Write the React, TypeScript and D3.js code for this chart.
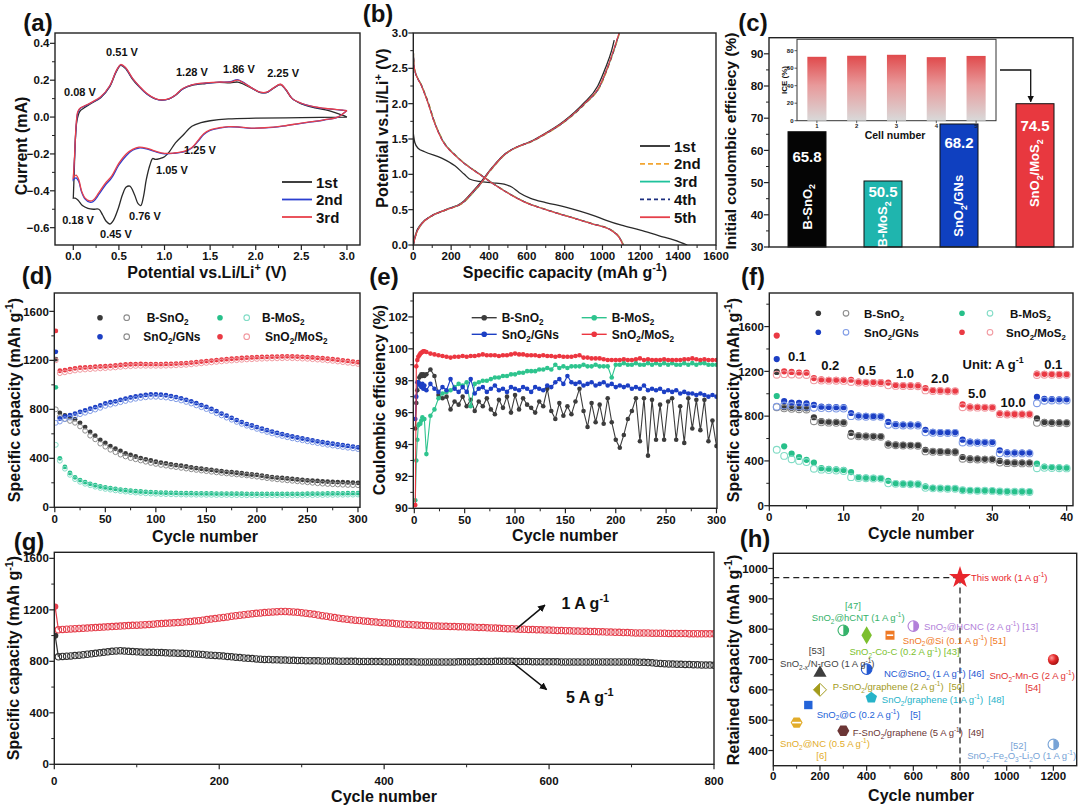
import React from 'react';
import * as d3 from 'd3';

const FONT = "'Liberation Sans', Arial, Helvetica, sans-serif";
type Pt = [number, number];

// ---------------- (a) cyclic voltammetry ----------------
const cv1Cath: Pt[] = [[3.0,0.0],[2.5,-0.003],[2.0,-0.006],[1.7,-0.01],[1.5,-0.02],[1.4,-0.03],[1.3,-0.05],[1.2,-0.1],[1.12,-0.14],[1.05,-0.19],[1.0,-0.215],[0.95,-0.225],[0.9,-0.23],[0.87,-0.225],[0.84,-0.26],[0.8,-0.34],[0.77,-0.43],[0.74,-0.48],[0.71,-0.47],[0.67,-0.42],[0.62,-0.375],[0.58,-0.38],[0.54,-0.42],[0.49,-0.5],[0.44,-0.56],[0.4,-0.58],[0.36,-0.565],[0.32,-0.53],[0.28,-0.5],[0.22,-0.5],[0.16,-0.495],[0.1,-0.48],[0.05,-0.45],[0.02,-0.44],[0.0,-0.44]];
const cv1Anod: Pt[] = [[0.0,-0.44],[0.01,-0.3],[0.02,-0.15],[0.04,-0.02],[0.07,0.03],[0.12,0.05],[0.2,0.075],[0.3,0.105],[0.4,0.165],[0.47,0.245],[0.52,0.28],[0.57,0.265],[0.65,0.205],[0.72,0.165],[0.8,0.128],[0.9,0.098],[0.97,0.092],[1.05,0.098],[1.12,0.118],[1.2,0.152],[1.3,0.172],[1.45,0.182],[1.6,0.188],[1.72,0.185],[1.8,0.19],[1.85,0.182],[1.95,0.158],[2.05,0.133],[2.12,0.133],[2.2,0.158],[2.27,0.176],[2.33,0.148],[2.4,0.1],[2.5,0.072],[2.65,0.05],[2.8,0.035],[2.95,0.01],[3.0,0.0]];
const cv2Cath: Pt[] = [[3.0,0.035],[2.9,0.0],[2.75,-0.016],[2.5,-0.034],[2.3,-0.049],[2.1,-0.059],[1.95,-0.061],[1.8,-0.054],[1.7,-0.053],[1.6,-0.06],[1.5,-0.073],[1.43,-0.095],[1.37,-0.13],[1.3,-0.168],[1.22,-0.188],[1.1,-0.197],[1.0,-0.199],[0.9,-0.188],[0.8,-0.172],[0.72,-0.168],[0.65,-0.18],[0.58,-0.21],[0.5,-0.26],[0.42,-0.33],[0.35,-0.37],[0.28,-0.42],[0.22,-0.458],[0.18,-0.462],[0.13,-0.445],[0.09,-0.405],[0.06,-0.35],[0.03,-0.33],[0.0,-0.34]];
const cv2Anod: Pt[] = [[0.0,-0.34],[0.015,-0.21],[0.03,-0.06],[0.05,0.025],[0.08,0.048],[0.12,0.058],[0.2,0.078],[0.3,0.108],[0.4,0.168],[0.47,0.248],[0.52,0.283],[0.57,0.268],[0.65,0.208],[0.72,0.168],[0.8,0.128],[0.9,0.099],[0.97,0.092],[1.05,0.099],[1.12,0.119],[1.2,0.153],[1.3,0.174],[1.45,0.184],[1.6,0.189],[1.72,0.192],[1.8,0.203],[1.85,0.192],[1.95,0.16],[2.05,0.134],[2.12,0.134],[2.2,0.159],[2.27,0.177],[2.33,0.149],[2.4,0.1],[2.5,0.074],[2.65,0.054],[2.8,0.044],[2.95,0.037],[3.0,0.035]];
const cv3Cath: Pt[] = [[3.0,0.035],[2.9,0.0],[2.75,-0.015],[2.5,-0.033],[2.3,-0.048],[2.1,-0.058],[1.95,-0.06],[1.8,-0.053],[1.7,-0.052],[1.6,-0.058],[1.5,-0.07],[1.43,-0.09],[1.37,-0.125],[1.3,-0.165],[1.22,-0.185],[1.1,-0.195],[1.0,-0.197],[0.9,-0.185],[0.8,-0.168],[0.72,-0.163],[0.65,-0.175],[0.58,-0.2],[0.5,-0.25],[0.42,-0.32],[0.35,-0.36],[0.28,-0.41],[0.22,-0.45],[0.18,-0.455],[0.13,-0.44],[0.09,-0.4],[0.06,-0.34],[0.03,-0.315],[0.0,-0.33]];
const cv3Anod: Pt[] = [[0.0,-0.33],[0.015,-0.2],[0.03,-0.05],[0.05,0.03],[0.08,0.05],[0.12,0.06],[0.2,0.08],[0.3,0.11],[0.4,0.17],[0.47,0.25],[0.52,0.285],[0.57,0.27],[0.65,0.21],[0.72,0.17],[0.8,0.13],[0.9,0.1],[0.97,0.093],[1.05,0.1],[1.12,0.12],[1.2,0.155],[1.3,0.175],[1.45,0.185],[1.6,0.19],[1.72,0.19],[1.8,0.2],[1.85,0.19],[1.95,0.16],[2.05,0.135],[2.12,0.135],[2.2,0.16],[2.27,0.178],[2.33,0.15],[2.4,0.1],[2.5,0.075],[2.65,0.055],[2.8,0.045],[2.95,0.038],[3.0,0.035]];
const cvNames = ['1st', '2nd', '3rd'];
const cvPeakText = ['0.51 V', '1.28 V', '1.86 V', '2.25 V', '0.08 V', '1.25 V', '1.05 V', '0.18 V', '0.76 V', '0.45 V'];
const cvPeakAt: Pt[] = [[0.534,0.353],[1.3,0.244],[1.816,0.26],[2.3,0.239],[0.073,0.136],[1.389,-0.179],[1.082,-0.287],[0.052,-0.558],[0.786,-0.537],[0.468,-0.634]];

// ---------------- (b) charge / discharge ----------------
const gcdDisV = [2.75,2.5,2.25,2.0,1.75,1.5,1.25,1.0,0.75,0.6,0.5,0.4,0.3,0.2,0.1,0.0];
const gcdChV = [0,0.15,0.3,0.4,0.5,0.6,0.75,0.9,1.0,1.1,1.25,1.5,1.75,2.0,2.25,2.5,2.75,3.0];
const gcd2Dis = [0,6,46,82,112,153,232,354,494,600,705,826,950,1055,1093,1112];
const gcd3Dis = [0,5,45,80,110,151,230,352,492,597,702,824,947,1052,1091,1110];
const gcd4Dis = [0,5,44,80,110,150,229,351,491,596,701,823,946,1051,1090,1109];
const gcd5Dis = [0,5,44,79,109,149,228,350,490,595,700,822,945,1050,1090,1108];
const gcd2Ch = [0,15,46,92,178,265,320,367,392,423,473,654,804,909,989,1028,1061,1091];
const gcd3Ch = [0,14,45,91,176,263,318,366,391,421,471,652,802,907,987,1026,1060,1089];
const gcd4Ch = [0,14,44,90,175,262,317,365,390,420,470,651,801,906,986,1025,1059,1088];
const gcd5Ch = [0,14,44,90,175,262,315,365,390,420,470,650,800,905,985,1025,1058,1088];
const gcd1Dis: Pt[] = [[0,1.58],[8,1.45],[25,1.37],[60,1.32],[150,1.23],[220,1.12],[270,1.0],[300,0.93],[350,0.9],[420,0.88],[480,0.86],[520,0.82],[560,0.74],[620,0.66],[700,0.6],[800,0.54],[880,0.48],[950,0.42],[1020,0.35],[1100,0.28],[1200,0.21],[1300,0.13],[1380,0.07],[1448,0.0]];
const gcd1Ch: Pt[] = [[0,0.0],[12,0.15],[42,0.3],[88,0.4],[172,0.5],[258,0.6],[312,0.75],[360,0.9],[388,1.0],[418,1.1],[468,1.25],[645,1.5],[795,1.75],[898,2.0],[975,2.25],[1015,2.5],[1048,2.75],[1062,2.9]];
const gcdNames = ['1st', '2nd', '3rd', '4th', '5th'];

// ---------------- (c) initial coulombic efficiency ----------------
const iceNames = ['B-SnO_{2}', 'B-MoS_{2}', 'SnO_{2}/GNs', 'SnO_{2}/MoS_{2}'];
const iceValues = [65.8, 50.5, 68.2, 74.5];
const iceValueLabelAt = [58, 47.1, 62.3, 67.6];
const iceNameAt = [42.5, 37.0, 42.8, 52.9];
const cellNumbers = ['1', '2', '3', '4', '5'];
const cellIce = [73.0, 74.2, 75.3, 72.6, 74.0];

// ---------------- (d) cycling ----------------
const dCyc = [1, ...d3.range(5, 301, 5)];
const dSnO2Ch = [1210,770,750,738,720,690,655,615,585,550,525,500,478,460,440,428,415,402,392,382,372,365,358,350,345,340,333,326,320,315,310,305,300,295,290,287,282,278,272,268,265,258,252,247,243,240,236,232,228,224,220,218,215,212,210,208,206,205,203,202,200];
const dSnO2Dis = [800,740,720,705,690,660,625,585,555,520,495,470,450,430,415,402,392,382,372,362,354,346,340,333,328,322,316,310,305,300,295,290,285,280,276,272,268,264,260,255,250,244,238,233,228,224,220,216,212,208,204,200,196,193,190,188,186,184,182,181,180];
const dMoS2Ch = [980,400,330,280,245,222,205,192,180,170,162,156,150,145,140,136,132,129,126,124,122,120,119,118,117,116,115,115,114,114,113,113,112,112,112,111,111,111,110,110,110,110,110,110,110,110,110,110,110,110,111,111,112,112,113,113,114,114,115,115,116];
const dMoS2Dis = [510,380,315,265,230,208,192,180,168,158,150,144,138,133,128,124,120,117,114,112,110,108,107,106,105,104,103,103,102,102,101,101,100,100,100,99,99,99,98,98,98,98,98,98,98,98,98,98,98,98,99,99,100,100,101,101,102,102,103,103,104];
const dGNsCh = [1270,725,742,752,765,780,792,805,818,832,848,858,865,878,888,897,905,912,918,922,922,920,915,908,900,890,878,865,850,835,820,803,785,765,748,730,712,696,680,668,655,642,630,618,607,597,588,578,570,562,554,546,539,532,525,519,513,507,501,496,490];
const dGNsDis = [690,700,720,732,745,760,772,785,798,812,828,838,847,858,868,878,886,893,898,902,902,900,896,890,882,872,860,847,832,817,802,786,768,750,732,715,697,681,666,653,640,627,615,603,592,582,572,563,555,547,539,531,524,517,510,504,498,492,486,481,475];
const dMSCh = [1440,1115,1120,1128,1135,1140,1142,1145,1148,1150,1152,1155,1158,1162,1166,1168,1170,1171,1170,1170,1170,1170,1171,1172,1174,1176,1178,1182,1186,1190,1194,1198,1202,1206,1210,1213,1216,1219,1222,1224,1226,1228,1229,1230,1231,1232,1233,1232,1231,1229,1227,1224,1221,1218,1214,1210,1205,1200,1195,1190,1185];
const dMSDis = [1200,1095,1102,1110,1117,1122,1125,1128,1131,1134,1136,1139,1142,1146,1150,1152,1154,1155,1155,1155,1155,1155,1156,1157,1159,1161,1163,1167,1171,1175,1179,1183,1187,1191,1195,1198,1201,1204,1207,1209,1211,1213,1214,1215,1216,1217,1218,1217,1216,1214,1212,1209,1206,1203,1199,1195,1190,1185,1180,1175,1170];
const materials = ['B-SnO_{2}', 'B-MoS_{2}', 'SnO_{2}/GNs', 'SnO_{2}/MoS_{2}'];

// ---------------- (e) coulombic efficiency ----------------
const eCyc = [1, 2, 3, 4, 5, 6, 7, 8, 9, 10, ...d3.range(12, 301, 4)];
const eSnO2 = [95.0,96.6,97.4,97.9,98.2,98.3,98.4,98.3,98.4,98.3,
  98.4,98.7,98.3,97.1,96.9,97.0,96.2,96.7,96.5,97.0,
  96.4,96.8,96.1,96.7,96.4,96.9,96.2,95.9,96.8,96.3,
  97.0,96.0,97.1,96.2,96.9,96.5,96.3,96.0,96.7,96.4,
  97.5,96.1,95.6,96.6,95.8,96.4,95.9,96.7,97.5,96.1,
  95.1,96.6,95.4,96.5,95.3,96.9,95.4,94.3,93.8,94.6,
  95.6,96.1,96.9,94.2,96.9,93.3,96.8,94.3,96.5,94.3,
  96.7,96.9,94.3,96.4,94.1,96.9,95.0,96.8,94.9,96.8,
  94.2,95.5,93.9];
const eMoS2 = [90.5,93.0,94.3,95.2,95.3,95.3,95.5,95.7,95.6,95.6,
  93.4,95.8,96.2,96.9,97.2,97.3,97.4,97.6,97.8,97.7,
  97.9,96.4,97.8,97.9,98.0,98.0,98.1,98.2,98.2,98.3,
  98.3,98.4,98.4,98.5,98.5,98.6,98.6,98.6,98.7,98.7,
  98.8,98.7,99.0,98.8,98.9,98.8,98.9,98.9,98.9,99.0,
  98.9,98.9,99.0,98.9,98.9,98.9,98.2,99.0,99.0,99.1,
  99.0,99.0,99.1,99.0,99.0,99.1,99.0,99.1,99.0,99.1,
  99.0,99.1,99.0,99.0,99.1,99.0,99.1,99.0,99.1,99.1,
  99.0,99.0,99.0];
const eGNs = [95.6,97.0,97.9,97.9,97.8,97.7,97.6,97.8,97.5,97.7,
  97.4,97.8,97.5,97.3,97.6,97.4,98.1,97.5,97.3,97.6,
  97.3,98.1,97.2,97.5,97.6,97.3,97.5,97.7,97.4,97.5,
  97.3,97.6,97.5,97.4,97.6,97.5,97.3,97.6,97.5,97.4,
  97.7,97.6,97.9,98.1,97.8,98.3,97.9,97.8,97.9,97.7,
  97.8,97.9,97.7,97.8,97.9,97.7,97.8,97.6,97.7,97.6,
  97.7,97.5,97.6,97.5,97.7,97.4,97.5,97.4,97.5,97.3,
  97.4,97.3,97.4,97.2,97.3,97.2,97.2,97.1,97.2,97.1,
  97.0,97.1,97.0];
const eMS = [90.2,98.9,99.3,99.5,99.6,99.7,99.75,99.8,99.85,99.85,
  99.8,99.7,99.65,99.6,99.55,99.5,99.45,99.5,99.5,99.55,
  99.5,99.55,99.55,99.6,99.65,99.6,99.6,99.6,99.55,99.6,
  99.6,99.65,99.7,99.65,99.65,99.6,99.6,99.6,99.55,99.6,
  99.55,99.55,99.5,99.55,99.5,99.5,99.5,99.55,99.6,99.45,
  99.45,99.4,99.4,99.4,99.35,99.3,99.3,99.3,99.3,99.35,
  99.3,99.3,99.35,99.4,99.3,99.35,99.3,99.3,99.3,99.35,
  99.3,99.3,99.3,99.3,99.35,99.35,99.4,99.35,99.3,99.35,
  99.3,99.3,99.3];

// ---------------- (f) rate performance ----------------
const fCyc = d3.range(1, 41);
const fSnCh = [1195,880,875,872,870, 790,755,750,748,745, 650,628,625,622,620, 555,545,543,542,540, 500,488,485,484,483, 435,422,420,419,418, 400,388,386,385,385, 780,748,745,744,743];
const fSnDis = [880,870,865,862,860, 755,745,742,740,738, 625,620,618,616,615, 545,540,538,537,536, 485,482,480,479,478, 420,415,413,412,412, 385,380,379,378,378, 740,740,738,738,737];
const fMoCh = [980,530,465,435,410, 385,335,330,325,320, 300,255,250,248,245, 222,200,197,195,194, 172,160,157,155,154, 142,138,136,135,134, 130,128,127,126,126, 375,350,345,343,340];
const fMoDis = [500,445,415,400,390, 330,322,318,314,310, 255,248,245,243,242, 200,195,193,192,191, 160,155,153,152,151, 138,135,134,133,132, 127,125,124,124,123, 335,338,337,335,333];
const fGnCh = [1310,935,922,918,915, 900,885,882,880,880, 828,805,802,800,800, 748,728,725,725,724, 678,660,657,655,655, 590,572,570,568,568, 495,477,475,475,475, 972,955,952,950,950];
const fGnDis = [885,895,890,887,885, 875,872,870,868,868, 800,797,795,795,794, 722,718,717,717,716, 655,652,650,650,650, 565,563,562,562,561, 468,467,467,467,467, 915,938,940,940,940];
const fMsCh = [1520,1200,1195,1190,1188, 1140,1128,1125,1125,1124, 1125,1108,1105,1104,1103, 1100,1078,1076,1075,1074, 1050,1032,1030,1028,1027, 905,885,882,880,880, 825,822,820,820,820, 1180,1178,1176,1175,1175];
const fMsDis = [1170,1175,1172,1170,1168, 1120,1118,1117,1116,1115, 1105,1100,1098,1097,1096, 1075,1070,1069,1068,1067, 1030,1025,1024,1023,1022, 880,877,876,875,875, 818,815,815,815,815, 1168,1170,1170,1170,1170];
const fRateText = ['0.1', '0.2', '0.5', '1.0', '2.0', '5.0', '10.0', '0.1', 'Unit: A g^{-1}'];
const fRateAt: Pt[] = [[3.73,1330],[8.2,1249],[13.15,1213],[18.26,1186],[22.97,1141],[27.95,1007],[32.8,926],[38.2,1266],[30.1,1266]];

// ---------------- (g) long cycling ----------------
const gCyc = [1, ...d3.range(5, 801, 5)];
const g1A = [1225,
  1045,1048,1050,1052,1054,1055,1057,1058,1060,1062,
  1064,1066,1068,1070,1072,1074,1076,1078,1080,1081,
  1083,1085,1087,1089,1091,1093,1095,1097,1099,1101,
  1104,1107,1110,1113,1116,1120,1124,1128,1132,1137,
  1141,1145,1150,1154,1158,1162,1166,1170,1173,1176,
  1179,1182,1184,1186,1187,1187,1186,1184,1181,1178,
  1174,1170,1165,1160,1155,1150,1145,1140,1135,1131,
  1127,1123,1120,1117,1114,1111,1108,1105,1102,1100,
  1097,1095,1092,1090,1088,1086,1084,1082,1080,1078,
  1077,1075,1074,1073,1072,1071,1070,1069,1068,1067,
  1066,1065,1063,1062,1060,1059,1058,1056,1055,1054,
  1053,1052,1050,1049,1048,1047,1046,1045,1044,1043,
  1042,1040,1039,1038,1037,1036,1035,1034,1033,1032,
  1031,1030,1029,1028,1027,1026,1025,1024,1023,1022,
  1021,1021,1020,1020,1019,1019,1018,1018,1017,1017,
  1016,1016,1016,1015,1015,1015,1014,1014,1014,1014];
const g5A = [1000,
  835,838,840,842,845,848,851,855,858,862,
  866,870,874,878,881,882,880,878,876,874,
  872,871,870,870,869,868,866,865,864,863,
  862,861,859,857,855,853,850,848,846,844,
  841,838,835,832,829,826,823,821,819,817,
  815,814,813,812,811,810,809,808,807,806,
  805,805,804,804,803,803,802,802,801,801,
  800,800,800,799,799,799,798,798,798,797,
  797,797,797,796,796,796,796,795,795,795,
  795,795,795,795,795,795,795,796,796,796,
  797,797,798,798,799,799,800,800,800,800,
  800,799,799,798,798,797,797,797,796,796,
  796,796,795,795,795,795,795,795,795,795,
  795,795,795,795,795,795,795,795,795,795,
  794,793,792,790,788,786,784,782,780,779,
  778,777,776,775,774,773,772,771,771,770];
const gRates = ['1 A g^{-1}', '5 A g^{-1}'];

// ---------------- (h) comparison ----------------
const hCycles = [800, 300, 400, 500, 600, 200, 400, 1200, 200, 420, 150, 100, 300, 1200];
const hCapacity = [970, 796, 780, 780, 810, 656, 668, 700, 600, 574, 550, 492, 465, 420];
const hColors = ['#e8262c', '#35b26a', '#7cbf2e', '#ef7a26', '#b27fd9', '#3e3e3e', '#2459d2', '#e23434', '#a39b1c', '#26b3c9', '#2363d8', '#e2ac2a', '#6b3535', '#77a3d6'];
const hShapes = ['star', 'halfcircle', 'diamond', 'halfsquare', 'halfcircle', 'triangle', 'halfcircle', 'sphere', 'halfdiamond', 'pentagon', 'square', 'hexagon', 'hexagon', 'halfcircle'];
const hTexts = ['This work (1 A g^{-1})', '[47]', 'SnO_{2}@hCNT (1 A g^{-1})', 'SnO_{2}-Co-C (0.2 A g^{-1}) [43]', 'SnO_{2}@Si (0.1 A g^{-1}) [51]', 'SnO_{2}@HCNC (2 A g^{-1}) [13]', '[53]', 'SnO_{2-x}/N-rGO (1 A g^{-1})', 'NC@SnO_{2} (1 A g^{-1}) [46]', 'SnO_{2}-Mn-G (2 A g^{-1})', '[54]', 'P-SnO_{2}/graphene (2 A g^{-1})  [50]', 'SnO_{2}/graphene (1 A g^{-1})  [48]', 'SnO_{2}@C (0.2 A g^{-1})    [5]', 'SnO_{2}@NC (0.5 A g^{-1})', '[6]', 'F-SnO_{2}/graphene (5 A g^{-1})  [49]', '[52]', 'SnO_{2}-Fe_{2}O_{3}-Li_{2}O (1 A g^{-1})'];
const hTextAt: Pt[] = [[847,971],[341,879],[165,838],[326,725],[555,763],[646,810],[186,730],[29,687],[474,653],[926,646],[1113,606],[255,610],[465,567],[186,520],[29,423],[207,383],[340,459],[1050,415],[831,383]];
const hTextMid = [false, true, false, false, false, false, true, false, false, false, true, false, false, false, false, true, false, true, false];
const hTextColor = [0, 1, 1, 2, 3, 4, 5, 5, 6, 7, 7, 8, 9, 10, 11, 11, 12, 13, 13];

// ---------------- colours ----------------
const COL = {
  sn: '#3a3a3a', snO: '#8c8c8c',
  mo: '#27c08a', moO: '#82dcc6',
  gn: '#1c3fc4', gnO: '#7f9be6',
  ms: '#ea3a44', msO: '#f29aa1',
};

// ---------------- helpers ----------------
function RT({ t, x, y, fs, anchor = 'start', fill = '#111', bold = true, rot = false }: any) {
  const parts = String(t).split(/(_\{[^}]*\}|\^\{[^}]*\})/).filter((s: string) => s.length > 0);
  let cur = 0;
  const spans = parts.map((p: string, i: number) => {
    let target = 0, size = fs, content = p;
    if (p.startsWith('_{')) { target = fs * 0.28; size = fs * 0.68; content = p.slice(2, -1); }
    else if (p.startsWith('^{')) { target = -fs * 0.4; size = fs * 0.68; content = p.slice(2, -1); }
    const dy = target - cur; cur = target;
    return <tspan key={i} dy={dy} fontSize={size}>{content}</tspan>;
  });
  return (
    <text x={x} y={y} fontSize={fs} fontFamily={FONT} fontWeight={bold ? 'bold' : 'normal'} fill={fill}
      textAnchor={anchor} transform={rot ? `rotate(-90 ${x} ${y})` : undefined} style={{ whiteSpace: 'pre' }}>{spans}</text>
  );
}

function Frame({ x, y, box, xt = [], yt = [], xm = [], ym = [], xf, yf, fs = 11.5, xOff = 15.5 }: any) {
  return (
    <g>
      {xm.map((v: number, i: number) => <line key={'xm' + i} x1={x(v)} x2={x(v)} y1={box.b} y2={box.b + 3} stroke="#222" strokeWidth={1} />)}
      {ym.map((v: number, i: number) => <line key={'ym' + i} x1={box.l - 3} x2={box.l} y1={y(v)} y2={y(v)} stroke="#222" strokeWidth={1} />)}
      {xt.map((v: number, i: number) => (
        <g key={'xt' + i}>
          <line x1={x(v)} x2={x(v)} y1={box.b} y2={box.b + 5} stroke="#222" strokeWidth={1.2} />
          <text x={x(v)} y={box.b + xOff} textAnchor="middle" fontSize={fs} fontWeight="bold" fontFamily={FONT} fill="#111">{xf(v)}</text>
        </g>
      ))}
      {yt.map((v: number, i: number) => (
        <g key={'yt' + i}>
          <line x1={box.l - 5} x2={box.l} y1={y(v)} y2={y(v)} stroke="#222" strokeWidth={1.2} />
          <text x={box.l - 5.5} y={y(v) + fs * 0.36} textAnchor="end" fontSize={fs} fontWeight="bold" fontFamily={FONT} fill="#111">{yf(v)}</text>
        </g>
      ))}
      <rect x={box.l} y={box.t} width={box.r - box.l} height={box.b - box.t} fill="none" stroke="#222" strokeWidth={1.4} />
    </g>
  );
}

function Letter({ t, cx, cy }: any) {
  return <text x={cx} y={cy + 8.5} textAnchor="middle" fontSize={24} fontWeight="bold" fontFamily={FONT} fill="#111">{t}</text>;
}

function YTitle({ t, cx, cy, fs = 16 }: any) {
  return <RT t={t} x={cx + fs * 0.35} y={cy} fs={fs} anchor="middle" rot />;
}
function XTitle({ t, cx, cy, fs = 16 }: any) {
  return <RT t={t} x={cx} y={cy + fs * 0.35} fs={fs} anchor="middle" />;
}

function Clip({ id, box }: any) {
  return <clipPath id={id}><rect x={box.l} y={box.t} width={box.r - box.l} height={box.b - box.t} /></clipPath>;
}

const f1 = d3.format('.1f');
const f0 = d3.format('d');

// ---------------- panels ----------------
function PanelA() {
  const box = { l: 55, r: 360, t: 33, b: 245 };
  const x = d3.scaleLinear().domain([-0.2006, 3.143]).range([box.l, box.r]);
  const y = d3.scaleLinear().domain([-0.694, 0.456]).range([box.b, box.t]);
  const line = d3.line<Pt>().x(d => x(d[0])).y(d => y(d[1])).curve(d3.curveCatmullRom.alpha(0.5));
  const loops = [cv1Cath.concat(cv1Anod), cv2Cath.concat(cv2Anod), cv3Cath.concat(cv3Anod)];
  const cols = ['#2a2a2a', '#2b3fd0', '#e8404a'];
  return (
    <g>
      <Clip id="clipA" box={box} />
      <g clipPath="url(#clipA)">
        {loops.map((d, i) => <path key={i} d={line(d) || ''} fill="none" stroke={cols[i]} strokeWidth={1.3} />)}
      </g>
      {cvPeakText.map((t, i) => <RT key={i} t={t} x={x(cvPeakAt[i][0])} y={y(cvPeakAt[i][1]) + 4} fs={11} anchor="middle" />)}
      {cvNames.map((n, i) => (
        <g key={n}>
          <line x1={282} x2={312} y1={182 + i * 17.5} y2={182 + i * 17.5} stroke={cols[i]} strokeWidth={1.8} />
          <RT t={n} x={316} y={182 + i * 17.5 + 5.5} fs={15} />
        </g>
      ))}
      <Frame x={x} y={y} box={box} xt={d3.range(0, 3.01, 0.5)} xm={d3.range(0.25, 3.01, 0.5)} yt={[-0.6, -0.4, -0.2, 0, 0.2, 0.4]} ym={[-0.5, -0.3, -0.1, 0.1, 0.3]} xf={f1} yf={f1} xOff={15} />
      <YTitle t="Current (mA)" cx={21.7} cy={146} />
      <XTitle t="Potential vs.Li/Li^{+} (V)" cx={207} cy={272} />
      <Letter t="(a)" cx={38} cy={22} />
    </g>
  );
}

function PanelB() {
  const box = { l: 413.3, r: 716, t: 33, b: 245 };
  const x = d3.scaleLinear().domain([0, 1600]).range([box.l, box.r]);
  const y = d3.scaleLinear().domain([0, 3]).range([box.b, box.t]);
  const line = d3.line<Pt>().x(d => x(d[0])).y(d => y(d[1])).curve(d3.curveMonotoneX);
  const mk = (cap: number[], v: number[]): Pt[] => cap.map((c, i) => [c, v[i]] as Pt);
  const cyc = [
    { dis: gcd1Dis, ch: gcd1Ch, c: '#2a2a2a', dash: '' },
    { dis: mk(gcd2Dis, gcdDisV), ch: mk(gcd2Ch, gcdChV), c: '#f2a531', dash: '5,3' },
    { dis: mk(gcd3Dis, gcdDisV), ch: mk(gcd3Ch, gcdChV), c: '#1fc29c', dash: '' },
    { dis: mk(gcd4Dis, gcdDisV), ch: mk(gcd4Ch, gcdChV), c: '#1c2f80', dash: '4,3' },
    { dis: mk(gcd5Dis, gcdDisV), ch: mk(gcd5Ch, gcdChV), c: '#e5404a', dash: '' },
  ];
  return (
    <g>
      <Clip id="clipB" box={box} />
      <g clipPath="url(#clipB)">
        {cyc.map((s, i) => (
          <g key={i}>
            <path d={line(s.dis) || ''} fill="none" stroke={s.c} strokeWidth={1.3} strokeDasharray={s.dash} />
            <path d={line(s.ch) || ''} fill="none" stroke={s.c} strokeWidth={1.3} strokeDasharray={s.dash} />
          </g>
        ))}
      </g>
      {gcdNames.map((n, i) => (
        <g key={n}>
          <line x1={640} x2={670} y1={146 + i * 17.8} y2={146 + i * 17.8} stroke={cyc[i].c} strokeWidth={1.8} strokeDasharray={cyc[i].dash} />
          <RT t={n} x={674} y={146 + i * 17.8 + 5.5} fs={15} />
        </g>
      ))}
      <Frame x={x} y={y} box={box} xt={d3.range(0, 1601, 200)} xm={d3.range(100, 1600, 200)} yt={d3.range(0, 3.01, 0.5)} ym={d3.range(0.25, 3, 0.5)} xf={f0} yf={f1} xOff={15} />
      <YTitle t="Potential vs.Li/Li^{+} (V)" cx={382.5} cy={128} fs={16} />
      <XTitle t="Specific capacity (mAh g^{-1})" cx={565} cy={272} />
      <Letter t="(b)" cx={378} cy={13.5} />
    </g>
  );
}

function PanelC() {
  const box = { l: 769, r: 1073, t: 37.7, b: 247 };
  const y = d3.scaleLinear().domain([30, 95]).range([box.b, box.t]);
  const x = d3.scaleBand<number>().domain([0, 1, 2, 3]).range([box.l, box.r]).paddingInner(0.5).paddingOuter(0.25);
  const cols = ['#050505', '#1fb5ae', '#0f40c0', '#e8383f'];
  const ib = { l: 797, r: 996, t: 39.3, b: 120.7 };
  const iy = d3.scaleLinear().domain([0, 93]).range([ib.b, ib.t]);
  const ix = d3.scaleBand<string>().domain(cellNumbers).range([ib.l, ib.r]).paddingInner(0.52).paddingOuter(0.26);
  return (
    <g>
      {iceValues.map((v, i) => (
        <g key={i}>
          <rect x={x(i)} y={y(v)} width={x.bandwidth()} height={y(30) - y(v)} fill={cols[i]} stroke="#111" strokeWidth={1} />
          <RT t={f1(v)} x={(x(i) || 0) + x.bandwidth() / 2} y={y(iceValueLabelAt[i]) + 5.5} fs={15} anchor="middle" fill="#fff" />
          <RT t={iceNames[i]} x={(x(i) || 0) + x.bandwidth() / 2 + 4.5} y={y(iceNameAt[i])} fs={13} anchor="middle" fill="#fff" rot />
        </g>
      ))}
      <Frame x={(v: number) => v} y={y} box={box} yt={d3.range(30, 91, 10)} ym={d3.range(35, 95, 10)} xf={f0} yf={f0} />
      <rect x={ib.l} y={ib.t} width={ib.r - ib.l} height={ib.b - ib.t} fill="#fff" stroke="#333" strokeWidth={1} />
      {cellIce.map((v, i) => (
        <rect key={i} x={ix(cellNumbers[i])} y={iy(v)} width={ix.bandwidth()} height={iy(0) - iy(v)} fill="url(#iceGrad)" />
      ))}
      {[0, 20, 40, 60, 80].map(v => (
        <g key={v}>
          <line x1={ib.l - 2.5} x2={ib.l} y1={iy(v)} y2={iy(v)} stroke="#333" strokeWidth={0.8} />
          <text x={ib.l - 3.5} y={iy(v) + 2.2} fontSize={6} fontWeight="bold" fontFamily={FONT} textAnchor="end" fill="#222">{v}</text>
        </g>
      ))}
      {cellNumbers.map(c => (
        <g key={c}>
          <line x1={(ix(c) || 0) + ix.bandwidth() / 2} x2={(ix(c) || 0) + ix.bandwidth() / 2} y1={ib.b} y2={ib.b + 2.5} stroke="#333" strokeWidth={0.8} />
          <text x={(ix(c) || 0) + ix.bandwidth() / 2} y={ib.b + 7} fontSize={6} fontWeight="bold" fontFamily={FONT} textAnchor="middle" fill="#222">{c}</text>
        </g>
      ))}
      <RT t="Cell number" x={895} y={138.5} fs={10.5} anchor="middle" />
      <RT t="ICE (%)" x={787} y={80} fs={8} anchor="middle" rot />
      <path d={`M1000,70 H1030.7 V${y(iceValues[3]) - 2}`} fill="none" stroke="#111" strokeWidth={1.3} markerEnd="url(#arrowC)" />
      <YTitle t="Initial coulombic efficiecy (%)" cx={731} cy={141} fs={15.5} />
      <Letter t="(c)" cx={753} cy={22} />
    </g>
  );
}

function LegendPair({ x1, x2, tx, yy, c, co, t, fs = 12 }: any) {
  return (
    <g>
      <circle cx={x1} cy={yy} r={2.8} fill={c} />
      <circle cx={x2} cy={yy} r={2.8} fill="none" stroke={co} strokeWidth={1.1} />
      <RT t={t} x={tx} y={yy + 4.3} fs={fs} />
    </g>
  );
}

function PanelD() {
  const box = { l: 54.3, r: 360, t: 293, b: 507.3 };
  const x = d3.scaleLinear().domain([0, 302]).range([54.8, 360]);
  const y = d3.scaleLinear().domain([0, 1750]).range([box.b, box.t]);
  const series = [
    { ch: dSnO2Ch, dis: dSnO2Dis, c: COL.sn, o: COL.snO },
    { ch: dMoS2Ch, dis: dMoS2Dis, c: COL.mo, o: COL.moO },
    { ch: dGNsCh, dis: dGNsDis, c: COL.gn, o: COL.gnO },
    { ch: dMSCh, dis: dMSDis, c: COL.ms, o: COL.msO },
  ];
  return (
    <g>
      <Clip id="clipD" box={box} />
      <g clipPath="url(#clipD)">
        {series.map((s, si) => (
          <g key={si}>
            {s.ch.map((v, i) => <circle key={'f' + i} cx={x(dCyc[i])} cy={y(v)} r={2.4} fill={s.c} />)}
            {s.dis.map((v, i) => <circle key={'o' + i} cx={x(dCyc[i])} cy={y(v)} r={2.4} fill="none" stroke={s.o} strokeWidth={1} />)}
          </g>
        ))}
      </g>
      <LegendPair x1={100} x2={126.7} tx={146.7} yy={317.7} c={COL.sn} co={COL.snO} t={materials[0]} />
      <LegendPair x1={220} x2={246.7} tx={262} yy={317.7} c={COL.mo} co={COL.moO} t={materials[1]} />
      <LegendPair x1={100} x2={126.7} tx={143.3} yy={336.7} c={COL.gn} co={COL.snO} t={materials[2]} />
      <LegendPair x1={220} x2={246.7} tx={265} yy={336.7} c={COL.ms} co={COL.msO} t={materials[3]} />
      <Frame x={x} y={y} box={box} xt={d3.range(0, 301, 50)} xm={d3.range(25, 300, 50)} yt={d3.range(0, 1601, 400)} ym={d3.range(200, 1750, 400)} xf={f0} yf={f0} />
      <YTitle t="Specific capacity (mAh g^{-1})" cx={14} cy={400} />
      <XTitle t="Cycle number" cx={205} cy={536} />
      <Letter t="(d)" cx={37} cy={275} />
    </g>
  );
}

function PanelE() {
  const box = { l: 413.3, r: 717, t: 293, b: 508.3 };
  const x = d3.scaleLinear().domain([0, 301]).range([414.3, 717.5]);
  const y = d3.scaleLinear().domain([90, 103.5]).range([box.b, box.t]);
  const series = [
    { v: eSnO2, c: '#3c3c3c' },
    { v: eMoS2, c: '#2ec48e' },
    { v: eGNs, c: '#1c3fc4' },
    { v: eMS, c: '#ec3640' },
  ];
  const line = d3.line<number>().x((d, i) => x(eCyc[i])).y(d => y(d));
  return (
    <g>
      <Clip id="clipE" box={box} />
      <g clipPath="url(#clipE)">
        {series.map((s, si) => (
          <g key={si}>
            <path d={line(s.v) || ''} fill="none" stroke={s.c} strokeWidth={1.1} />
            {s.v.map((v, i) => <circle key={i} cx={x(eCyc[i])} cy={y(v)} r={2.3} fill={s.c} />)}
          </g>
        ))}
      </g>
      {series.map((s, i) => {
        const lx = i % 2 === 0 ? 471.7 : 581.7;
        const yy = i < 2 ? 317.7 : 334.3;
        return (
          <g key={i}>
            <line x1={lx} x2={lx + 25} y1={yy} y2={yy} stroke={s.c} strokeWidth={1.4} />
            <circle cx={lx + 12.5} cy={yy} r={2.8} fill={s.c} />
            <RT t={materials[i]} x={lx + 30} y={yy + 4.3} fs={12} />
          </g>
        );
      })}
      <Frame x={x} y={y} box={box} xt={d3.range(0, 301, 50)} xm={d3.range(25, 300, 50)} yt={d3.range(90, 102.1, 2)} ym={d3.range(91, 104, 2)} xf={f0} yf={f0} />
      <YTitle t="Coulombic efficiency (%)" cx={379} cy={400} />
      <XTitle t="Cycle number" cx={565} cy={535} />
      <Letter t="(e)" cx={384} cy={276} />
    </g>
  );
}

function PanelF() {
  const box = { l: 769.3, r: 1073, t: 293, b: 505.7 };
  const x = d3.scaleLinear().domain([0, 40.85]).range([box.l, box.r]);
  const y = d3.scaleLinear().domain([0, 1900]).range([box.b, box.t]);
  const series = [
    { ch: fSnCh, dis: fSnDis, c: COL.sn, o: COL.snO },
    { ch: fMoCh, dis: fMoDis, c: COL.mo, o: COL.moO },
    { ch: fGnCh, dis: fGnDis, c: COL.gn, o: COL.gnO },
    { ch: fMsCh, dis: fMsDis, c: COL.ms, o: COL.msO },
  ];
  return (
    <g>
      <Clip id="clipF" box={box} />
      <g clipPath="url(#clipF)">
        {series.map((s, si) => (
          <g key={si}>
            {s.ch.map((v, i) => <circle key={'f' + i} cx={x(fCyc[i])} cy={y(v)} r={3.1} fill={s.c} />)}
            {s.dis.map((v, i) => <circle key={'o' + i} cx={x(fCyc[i])} cy={y(v)} r={3.4} fill="none" stroke={s.o} strokeWidth={1.1} />)}
          </g>
        ))}
      </g>
      {fRateText.map((t, i) => <RT key={i} t={t} x={x(fRateAt[i][0])} y={y(fRateAt[i][1]) + 4.6} fs={13} anchor="middle" />)}
      <LegendPair x1={818.3} x2={846} tx={864} yy={313.3} c={COL.sn} co={COL.snO} t={materials[0]} fs={11.5} />
      <LegendPair x1={962} x2={990} tx={1010} yy={313.3} c={COL.mo} co={COL.moO} t={materials[1]} fs={11.5} />
      <LegendPair x1={818.3} x2={846} tx={864} yy={332.3} c={COL.gn} co={COL.gnO} t={materials[2]} fs={11.5} />
      <LegendPair x1={962} x2={990} tx={1006} yy={332.3} c={COL.ms} co={COL.msO} t={materials[3]} fs={11.5} />
      <Frame x={x} y={y} box={box} xt={[0, 10, 20, 30, 40]} xm={[5, 15, 25, 35]} yt={d3.range(0, 1601, 400)} ym={d3.range(200, 1900, 400)} xf={f0} yf={f0} />
      <YTitle t="Specific capacity (mAh g^{-1})" cx={733} cy={400} />
      <XTitle t="Cycle number" cx={921} cy={533} />
      <Letter t="(f)" cx={753} cy={276} />
    </g>
  );
}

function PanelG() {
  const box = { l: 54.3, r: 714, t: 552.3, b: 764.3 };
  const x = d3.scaleLinear().domain([0, 800]).range([box.l, box.r]);
  const y = d3.scaleLinear().domain([0, 1647]).range([box.b, box.t]);
  const series = [
    { v: g5A, c: '#333333' },
    { v: g1A, c: '#e5404d' },
  ];
  const line = d3.line<number>().x((d, i) => x(gCyc[i])).y(d => y(d));
  return (
    <g>
      <Clip id="clipG" box={box} />
      <g clipPath="url(#clipG)">
        {series.map((s, si) => (
          <g key={si}>
            <path d={line(s.v.slice(0, 2)) || ''} fill="none" stroke={s.c} strokeWidth={1.2} />
            <circle cx={x(gCyc[0])} cy={y(s.v[0])} r={3.2} fill={s.c} />
            {s.v.slice(1).map((v, i) => <circle key={i} cx={x(gCyc[i + 1])} cy={y(v)} r={3.2} fill="none" stroke={s.c} strokeWidth={1.1} />)}
          </g>
        ))}
      </g>
      <line x1={x(560)} y1={y(1050)} x2={x(595)} y2={y(1237)} stroke="#111" strokeWidth={1.5} markerEnd="url(#arrowG)" />
      <line x1={x(555)} y1={y(795)} x2={x(597)} y2={y(580)} stroke="#111" strokeWidth={1.5} markerEnd="url(#arrowG)" />
      <RT t={gRates[0]} x={x(615)} y={y(1252) + 5.6} fs={16} />
      <RT t={gRates[1]} x={x(620.5)} y={y(522) + 5.6} fs={16} />
      <Frame x={x} y={y} box={box} xt={[0, 200, 400, 600, 800]} xm={[100, 300, 500, 700]} yt={[0, 400, 800, 1200, 1600]} ym={[200, 600, 1000, 1400]} xf={f0} yf={f0} xOff={20.5} />
      <YTitle t="Specific capacity (mAh g^{-1})" cx={13.5} cy={658} />
      <XTitle t="Cycle number" cx={384} cy={796.5} />
      <Letter t="(g)" cx={29} cy={541} />
    </g>
  );
}

function poly(n: number, r: number, rot: number) {
  const pts = d3.range(n).map(k => {
    const a = rot + (k * 2 * Math.PI) / n;
    return [r * Math.sin(a), -r * Math.cos(a)] as Pt;
  });
  return 'M' + pts.map(p => p.join(',')).join('L') + 'Z';
}

function HMarker({ shape, cx, cy, c }: any) {
  const t = `translate(${cx},${cy})`;
  if (shape === 'star') return <path transform={t} d={d3.symbol(d3.symbolStar, 150)() || ''} fill={c} />;
  if (shape === 'diamond') return <path transform={t} d={d3.symbol(d3.symbolDiamond, 95)() || ''} fill={c} />;
  if (shape === 'triangle') return <path transform={t} d={d3.symbol(d3.symbolTriangle, 75)() || ''} fill={c} />;
  if (shape === 'square') return <path transform={t} d={d3.symbol(d3.symbolSquare, 70)() || ''} fill={c} />;
  if (shape === 'pentagon') return <path transform={t} d={poly(5, 6, 0)} fill={c} />;
  if (shape === 'hexagon') return (
    <g transform={t}>
      <path d={poly(6, 6, Math.PI / 6)} fill={c} />
      {c === '#e2ac2a' ? <rect x={-4.5} y={-0.8} width={9} height={1.6} fill="#fff" /> : null}
    </g>
  );
  if (shape === 'sphere') return <circle cx={cx} cy={cy} r={5.5} fill="url(#sphereGrad)" />;
  if (shape === 'halfsquare') return (
    <g transform={t}>
      <rect x={-4.5} y={-4.5} width={9} height={9} fill={c} />
      <rect x={-3.2} y={-0.8} width={6.4} height={1.6} fill="#fff" />
    </g>
  );
  if (shape === 'halfdiamond') return (
    <g transform={t}>
      <path d="M0,-6.5L6.5,0L0,6.5L-6.5,0Z" fill="#fff" stroke={c} strokeWidth={1} />
      <path d="M0,-6.5L0,6.5L-6.5,0Z" fill={c} />
    </g>
  );
  return (
    <g transform={t}>
      <circle r={5.3} fill="#fff" stroke={c} strokeWidth={1.1} />
      <path d="M0,-5.3A5.3,5.3 0 0 1 0,5.3Z" fill={c} />
    </g>
  );
}

function PanelH() {
  const box = { l: 773.3, r: 1076.7, t: 553.3, b: 765.7 };
  const x = d3.scaleLinear().domain([0, 1300]).range([box.l, box.r]);
  const y = d3.scaleLinear().domain([350, 1050]).range([box.b, box.t]);
  return (
    <g>
      <line x1={x(0)} x2={x(hCycles[0])} y1={y(hCapacity[0])} y2={y(hCapacity[0])} stroke="#222" strokeWidth={1.3} strokeDasharray="6,4" />
      <line x1={x(hCycles[0])} x2={x(hCycles[0])} y1={y(hCapacity[0])} y2={box.b} stroke="#222" strokeWidth={1.3} strokeDasharray="6,4" />
      {hCycles.map((c, i) => <HMarker key={i} shape={hShapes[i]} cx={x(c)} cy={y(hCapacity[i])} c={hColors[i]} />)}
      {hTexts.map((t, i) => (
        <RT key={i} t={t} x={x(hTextAt[i][0])} y={y(hTextAt[i][1]) + 3.4} fs={9.5} bold={false} anchor={hTextMid[i] ? 'middle' : 'start'} fill={hColors[hTextColor[i]]} />
      ))}
      <Frame x={x} y={y} box={box} xt={d3.range(0, 1201, 200)} xm={d3.range(100, 1300, 200)} yt={d3.range(400, 1001, 100)} ym={d3.range(450, 1050, 100)} xf={f0} yf={f0} xOff={14} />
      <YTitle t="Retained capacity (mAh g^{-1})" cx={733} cy={660} />
      <XTitle t="Cycle number" cx={921} cy={795} />
      <Letter t="(h)" cx={755} cy={538} />
    </g>
  );
}

export default function App() {
  return (
    <svg width={1080} height={808} viewBox="0 0 1080 808" style={{ position: 'absolute', left: 0, top: 0, background: '#fff' }} fontFamily={FONT}>
      <defs>
        <linearGradient id="iceGrad" x1="0" y1="0" x2="0" y2="1">
          <stop offset="0" stopColor="#e04a4c" />
          <stop offset="0.45" stopColor="#e89a9b" />
          <stop offset="1" stopColor="#d9d9d9" />
        </linearGradient>
        <radialGradient id="sphereGrad" cx="0.35" cy="0.35" r="0.7">
          <stop offset="0" stopColor="#ff9a9a" />
          <stop offset="0.5" stopColor="#e42a2a" />
          <stop offset="1" stopColor="#a01010" />
        </radialGradient>
        <marker id="arrowC" viewBox="0 0 10 10" refX="9" refY="5" markerWidth="5" markerHeight="6" orient="auto">
          <path d="M0,0 L10,5 L0,10 z" fill="#111" />
        </marker>
        <marker id="arrowG" viewBox="0 0 10 10" refX="9" refY="5" markerWidth="5" markerHeight="5" orient="auto">
          <path d="M0,0 L10,5 L0,10 z" fill="#111" />
        </marker>
      </defs>
      <rect x={0} y={0} width={1080} height={808} fill="#fff" />
      <PanelA />
      <PanelB />
      <PanelC />
      <PanelD />
      <PanelE />
      <PanelF />
      <PanelG />
      <PanelH />
    </svg>
  );
}
